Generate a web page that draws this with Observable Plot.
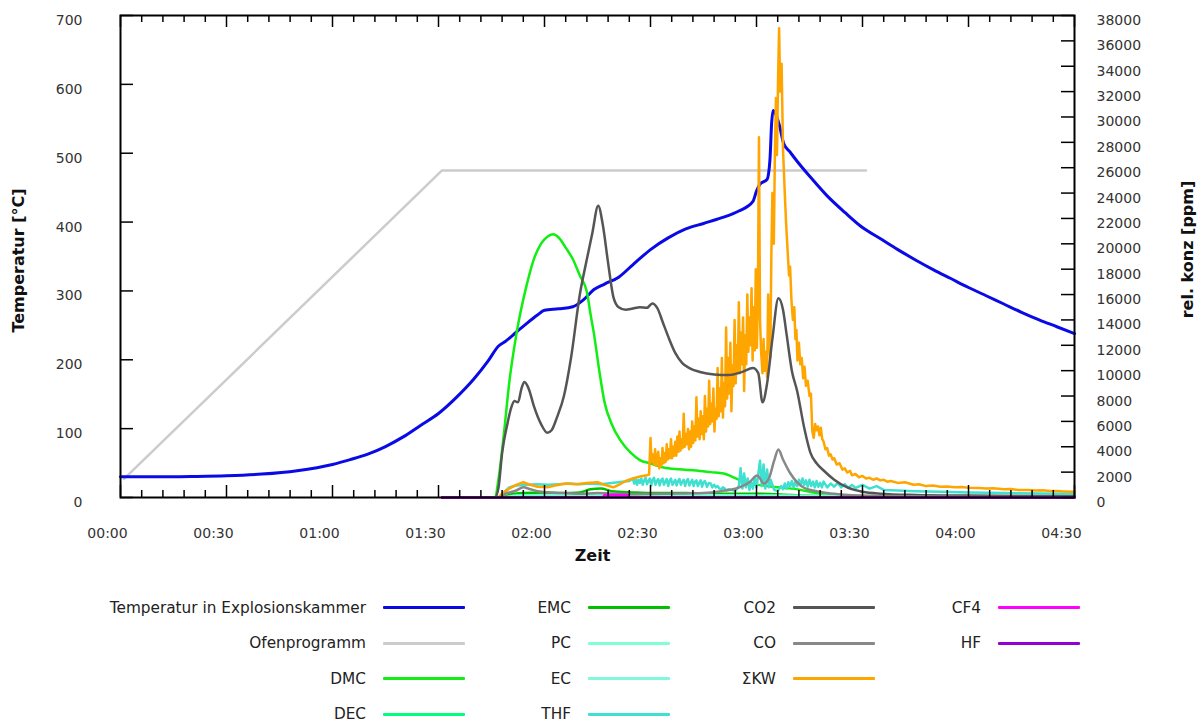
<!DOCTYPE html>
<html>
<head>
<meta charset="utf-8">
<script src="https://cdn.jsdelivr.net/npm/d3@7"></script>
<script src="https://cdn.jsdelivr.net/npm/@observablehq/plot@0.6"></script>
<style>
  body { margin: 0; background: #fff; font-family: "DejaVu Sans", Verdana, sans-serif; }
  #legend { display: grid; grid-template-columns: repeat(4, 205px); grid-template-rows: repeat(4, 35.5px); margin-left: 260px; font-size: 15.3px; color: #222; }
  .item { display: flex; justify-content: flex-end; align-items: center; gap: 17px; white-space: nowrap; }
  .swatch { width: 82px; height: 3px; flex: none; border-radius: 1px; }
</style>
</head>
<body>
<div id="chart"></div>
<div id="legend"></div>
<script>
// ---- tick values ----
const xMajorTicks = [0, 30, 60, 90, 120, 150, 180, 210, 240, 270];
const tempTicks = [0, 100, 200, 300, 400, 500, 600, 700];
const ppmTicks = [0, 2000, 4000, 6000, 8000, 10000, 12000, 14000, 16000, 18000, 20000, 22000, 24000, 26000, 28000, 30000, 32000, 34000, 36000, 38000];

// ---- series: [minutes, value] ----
const temperatur = [[0,30],[10,30],[20,30.5],[30,31.5],[40,34],[50,39],[60,48],[65,55],[70,63],[75,74],[80,88],[85,105],[90,122],[95,145],[100,172],[104,198],[107,220],[109,227],[112,240],[115,253],[118,265],[120,272],[124,274],[128,277],[131,287],[134,302],[137,310],[141,320],[145,338],[150,360],[155,377],[160,390],[165,398],[170,406],[175,416],[179,430],[180,445],[181,455],[183,462],[183.8,490],[184.3,545],[184.7,562],[185.5,556],[186.5,540],[187.7,514],[189.6,501],[192,485],[195.3,465],[200,438],[205,414],[210,392],[215,376],[220,360],[225,345],[230,331],[235,318],[240,305],[245,293],[250,281],[255,269],[260,258],[265,248],[270,238]];
const ofenprogramm = [[1,27],[91,475],[211,475]];

const dmc = [[91,0],[106,0],[107,1500],[108.5,5000],[110,9000],[112,12800],[115,16800],[117,18800],[119,20000],[121,20600],[122.5,20750],[124,20500],[126,19700],[128,18800],[130,17500],[132,16200],[133,14500],[134,12900],[135.5,10000],[137,7500],[139,5800],[141.5,4500],[144.3,3550],[147,2950],[150,2680],[153.7,2360],[158,2220],[163,2130],[167,2000],[170.7,1890],[173,1650],[175.5,1340],[179,1050],[182,945],[186,800],[190,700],[194,520],[198,300],[202,150],[210,70],[270,30]];
const dec = [[91,0],[108,0],[112,200],[130,250],[150,200],[180,150],[200,80],[270,20]];
const emc = [[91,0],[108,0],[110,200],[114,350],[120,400],[125,350],[130,400],[133,650],[136,700],[139,500],[145,400],[150,350],[160,350],[170,300],[180,300],[190,200],[200,100],[220,50],[270,30]];
const pc = [[91,0],[108,0],[112,150],[140,200],[180,150],[270,50]];
const ec = [[91,0],[110,0],[113,100],[150,150],[200,100],[270,40]];
const thf = [[91,0],[107,0],[108.5,400],[110,800],[112,950],[115,1000],[118,1050],[121,1000],[124,1050],[127,1100],[130,1050],[133,1100],[136,1050],[139,1150],[142,1250],[144,1300],[145,1500],[145.4,1100],[145.8,1450],[146.2,1000],[146.6,1400],[147,1150],[147.4,1500],[147.8,1000],[148.2,1350],[148.6,1550],[149,1050],[149.4,1300],[149.8,1500],[150.2,950],[150.6,1400],[151,1550],[151.4,1000],[151.8,1300],[152.2,1450],[152.6,950],[153,1350],[153.4,1500],[153.8,1000],[154.2,1250],[154.6,1450],[155,900],[155.4,1300],[155.8,1500],[156.2,1000],[156.6,1200],[157,1400],[157.4,950],[157.8,1300],[158.2,1450],[158.6,1000],[159,1250],[159.4,1400],[159.8,900],[160.2,1300],[160.6,1450],[161,950],[161.4,1200],[161.8,1400],[162.2,900],[162.6,1250],[163,1350],[163.4,900],[163.8,1150],[164.2,1350],[164.6,850],[165,1200],[165.4,1300],[166,850],[166.5,1150],[167,1100],[167.5,800],[168,1000],[168.5,800],[169,900],[169.5,700],[170,650],[170.5,800],[171,700],[171.5,550],[172,650],[173,600],[174,500],[175,900],[175.5,2300],[176,700],[176.5,1900],[177,800],[177.5,1500],[178,600],[178.5,1200],[179,700],[179.5,1600],[180,800],[181,2900],[181.5,900],[182,2600],[182.5,700],[183,2200],[183.5,800],[184,1400],[185,600],[186,500],[187,900],[187.5,650],[188,1100],[188.5,700],[189,1200],[189.5,850],[190,1300],[190.5,800],[191,1250],[191.5,900],[192,1400],[192.5,950],[193,1500],[193.5,1000],[194,1350],[194.5,850],[195,1400],[195.5,900],[196,1250],[196.5,800],[197,1300],[197.5,850],[198,1150],[198.5,800],[199,1250],[200,800],[201,1100],[202,850],[203,1150],[204,800],[205,1050],[206,750],[207,1000],[208,750],[210,1000],[212,700],[214,900],[216,600],[220,550],[225,500],[232,450],[240,400],[250,350],[260,320],[270,300]];
const co2 = [[91,0],[106,0],[107,800],[108,3500],[109.5,5800],[110.5,7000],[111.5,7600],[112.5,7500],[113.5,8600],[114.3,9100],[115.5,8600],[117,7200],[119,5800],[120.8,5100],[122,5300],[123.5,6300],[125.5,8000],[127.5,11000],[130,16000],[132,18800],[133.5,20800],[135.2,23000],[136.5,21500],[138,18500],[139.5,15800],[141,15000],[143,14800],[145,14900],[147,15000],[149,14950],[150.5,15300],[152,14900],[153.5,13800],[155,12700],[157,11400],[159,10600],[161,10200],[164,9900],[168,9700],[172,9650],[176,9900],[179,10200],[180.5,9800],[181.7,7500],[183,9000],[184.5,12500],[186.2,15700],[187.5,14800],[188.5,12900],[190,10000],[191.5,8400],[193.5,5500],[195.3,3500],[197,2700],[199,2130],[202,1400],[205.7,790],[210,450],[215,300],[225,200],[240,150],[270,100]];
const co = [[91,0],[107,0],[109,300],[112,550],[114,800],[116,650],[118,500],[121,400],[125,350],[130,300],[135,350],[140,300],[145,250],[150,280],[155,300],[160,320],[165,350],[170,500],[175,780],[178,1200],[180.2,1730],[181,1500],[182,1100],[183.5,1500],[185,2900],[186.2,3780],[187.5,3000],[189.6,1890],[191.5,1200],[193.3,790],[196,550],[200,350],[205,220],[215,120],[240,60],[270,40]];
const skw = [[91,0],[107,0],[108,300],[110,700],[112,1000],[114,1200],[116,1000],[118,850],[120.8,800],[123,950],[126,1100],[129,1050],[132,1150],[135,1200],[137,1000],[139.5,800],[141,1000],[143,1300],[145,1500],[147,1650],[149,1750],[149.6,1800],[150,4700],[150.3,2800],[150.6,3400],[151,2600],[151.3,3800],[151.6,2500],[152,3300],[152.2,3600],[152.5,2300],[152.8,3100],[153.1,2500],[153.4,3900],[153.7,2700],[154,3500],[154.3,2800],[154.6,4200],[154.9,3000],[155.2,3800],[155.5,3100],[155.8,4600],[156.1,3100],[156.4,4000],[156.7,3300],[157,4400],[157.3,3300],[157.6,4800],[157.9,3600],[158.2,5200],[158.5,3700],[158.8,4600],[159.1,3900],[159.4,6600],[159.7,4000],[160,5000],[160.3,4200],[160.6,5400],[160.9,3800],[161.2,5200],[161.5,4000],[161.8,6000],[162.1,4300],[162.4,5600],[162.7,4500],[163,7900],[163.3,4800],[163.6,6200],[163.9,4600],[164.2,6800],[164.5,5000],[164.8,6400],[165.1,4600],[165.4,8000],[165.7,5200],[166,7000],[166.3,5600],[166.6,9200],[166.9,5800],[167.2,7400],[167.5,6000],[167.8,8600],[168.1,5200],[168.4,7000],[168.7,6200],[169,10200],[169.3,6400],[169.6,8600],[169.9,6800],[170.2,11000],[170.5,6300],[170.8,9000],[171.1,7200],[171.4,13400],[171.7,7800],[172,11000],[172.3,8200],[172.6,12200],[172.9,6800],[173.2,10400],[173.5,8800],[173.8,14000],[174.1,9000],[174.4,12000],[174.7,9800],[175,15400],[175.3,9800],[175.6,13000],[175.9,10500],[176.2,14200],[176.5,8400],[176.8,12800],[177.1,10500],[177.4,16000],[177.7,11500],[178,14200],[178.3,12000],[178.6,16500],[178.9,10800],[179.2,15000],[179.5,11600],[179.8,18000],[180.1,11800],[180.4,16000],[180.7,28400],[181,14000],[181.3,11500],[181.7,9800],[182,12500],[182.3,10000],[182.7,11500],[183,9500],[183.3,16000],[183.6,12500],[183.9,11000],[184.2,19000],[184.5,24000],[184.9,20000],[185.2,27000],[185.5,31500],[185.8,27000],[186.1,33000],[186.4,37000],[186.7,32000],[187.1,34200],[187.5,27500],[188,24000],[188.4,21500],[188.8,19500],[189.2,17500],[189.5,18200],[189.9,15500],[190.3,14000],[190.7,15000],[191,12500],[191.3,13200],[191.6,10800],[192,12200],[192.4,10500],[192.8,11000],[193.2,9400],[193.6,10300],[194,8800],[194.5,9200],[195,8000],[195.4,8200],[195.8,5200],[196.2,4700],[196.6,5800],[197,5300],[197.4,5600],[197.8,4900],[198.2,5500],[198.6,4600],[199,4400],[199.5,3800],[200,3900],[200.5,3300],[201,3400],[201.5,3000],[202,3100],[202.7,2600],[203.5,2700],[204.3,2200],[205,2300],[205.7,1970],[206.5,2100],[207,1750],[208,1850],[209,1600],[210,1700],[211,1500],[212,1550],[213,1400],[214,1500],[215,1350],[216,1400],[217,1250],[218,1300],[220,1150],[222,1200],[224.5,1000],[226,1050],[228,900],[230,950],[232,850],[234,870],[236,800],[238,820],[240,760],[243,740],[245,700],[247,720],[250,650],[252,670],[254,600],[257,600],[259,560],[261,570],[263,520],[265,510],[267,480],[270,450]];
const cf4 = [[91,0],[136.5,0],[137,200],[143.5,200],[144,0],[270,0]];
const hf = [[91,0],[270,0]];

// ---- series definitions (draw order) ----
const series = [
  {name: "Ofenprogramm", data: ofenprogramm, color: "#cccccc", axis: "T", width: 2.5, curve: "linear"},
  {name: "Temperatur in Explosionskammer", data: temperatur, color: "#0a0ae6", axis: "T", width: 3, curve: "monotone-x"},
  {name: "DMC", data: dmc, color: "#11ee11", axis: "ppm", width: 2.5, curve: "monotone-x"},
  {name: "DEC", data: dec, color: "#00ff80", axis: "ppm", width: 2.5, curve: "monotone-x"},
  {name: "EMC", data: emc, color: "#00c000", axis: "ppm", width: 2.5, curve: "monotone-x"},
  {name: "PC", data: pc, color: "#7fffd4", axis: "ppm", width: 2.5, curve: "monotone-x"},
  {name: "EC", data: ec, color: "#80f8dc", axis: "ppm", width: 2.5, curve: "monotone-x"},
  {name: "THF", data: thf, color: "#40e0d0", axis: "ppm", width: 2.5, curve: "linear"},
  {name: "ΣKW", data: skw, color: "#ffa500", axis: "ppm", width: 2.5, curve: "linear"},
  {name: "CO2", data: co2, color: "#555555", axis: "ppm", width: 2.5, curve: "monotone-x"},
  {name: "CO", data: co, color: "#888888", axis: "ppm", width: 2.5, curve: "monotone-x"},
  {name: "CF4", data: cf4, color: "#ff00ff", axis: "ppm", width: 2.5, curve: "linear"},
  {name: "HF", data: hf, color: "#9400d3", axis: "ppm", width: 2.5, curve: "linear"}
];
const legendColumns = [
  ["Temperatur in Explosionskammer", "Ofenprogramm", "DMC", "DEC"],
  ["EMC", "PC", "EC", "THF"],
  ["CO2", "CO", "ΣKW"],
  ["CF4", "HF"]
];

const TMAX = 700, PMAX = 38000, k = TMAX / PMAX;
const W = 1200, H = 590, mL = 120, mR = 126, mT = 15, mB = 93;
const plotW = W - mL - mR, plotH = H - mT - mB;
const fmtTime = d => String(Math.floor(d / 60)).padStart(2, "0") + ":" + String(d % 60).padStart(2, "0");
const xMinorTicks = d3.range(0, 271, 6).filter(d => d % 30 !== 0);
const font = "DejaVu Sans";

const marks = [];
for (const s of series) {
  const f = s.axis === "T" ? 1 : k;
  marks.push(Plot.line(s.data, {x: d => d[0], y: d => d[1] * f, stroke: s.color, strokeWidth: s.width, strokeLinejoin: "round", curve: s.curve}));
}
// inward tick marks
marks.push(Plot.tickX(xMajorTicks, {x: d => d, insetTop: plotH - 12, stroke: "#000", strokeWidth: 1.5}));
marks.push(Plot.tickX(xMinorTicks, {x: d => d, insetTop: plotH - 7, stroke: "#000", strokeWidth: 1.5}));
marks.push(Plot.tickX(xMajorTicks, {x: d => d, insetBottom: plotH - 12, stroke: "#000", strokeWidth: 1.5}));
marks.push(Plot.tickX(xMinorTicks, {x: d => d, insetBottom: plotH - 7, stroke: "#000", strokeWidth: 1.5}));
marks.push(Plot.tickY(tempTicks, {y: d => d, insetRight: plotW - 13, stroke: "#000", strokeWidth: 1.5}));
marks.push(Plot.tickY(ppmTicks, {y: d => d * k, insetLeft: plotW - 13, stroke: "#000", strokeWidth: 1.5}));
marks.push(Plot.frame({stroke: "#000", strokeWidth: 2}));
// axis labels
marks.push(Plot.axisX(xMajorTicks, {anchor: "bottom", tickSize: 0, tickPadding: 31, tickFormat: fmtTime, dx: -13, fill: "#333", fontSize: 14}));
marks.push(Plot.axisY(tempTicks, {anchor: "left", tickSize: 0, tickPadding: 38, dy: 5, fill: "#333", fontSize: 14}));
marks.push(Plot.axisY(ppmTicks.map(v => v * k), {anchor: "right", tickSize: 0, tickPadding: 22, dy: 5, fill: "#333", fontSize: 14, tickFormat: d => String(Math.round(d / k))}));
// axis titles
marks.push(Plot.text(["Temperatur [°C]"], {frameAnchor: "left", textAnchor: "middle", dx: -102, dy: 4, rotate: -90, fontWeight: "bold", fontSize: 16, fill: "#111", text: d => d}));
marks.push(Plot.text(["rel. konz [ppm]"], {frameAnchor: "right", textAnchor: "middle", dx: 113, dy: -7, rotate: -90, fontWeight: "bold", fontSize: 16, fill: "#111", text: d => d}));
marks.push(Plot.text(["Zeit"], {frameAnchor: "bottom", dy: 63, dx: -5, fontWeight: "bold", fontSize: 16, fill: "#111", text: d => d}));

const chart = Plot.plot({
  width: W, height: H,
  marginLeft: mL, marginRight: mR, marginTop: mT, marginBottom: mB,
  style: {fontFamily: font, background: "#fff", overflow: "visible"},
  x: {domain: [0, 270], axis: null},
  y: {domain: [0, TMAX], axis: null},
  marks
});
document.getElementById("chart").appendChild(chart);

// legend
const legend = document.getElementById("legend");
const byName = new Map(series.map(s => [s.name, s]));
legendColumns.forEach((col, ci) => {
  col.forEach((name, ri) => {
    const s = byName.get(name);
    const item = document.createElement("div");
    item.className = "item";
    item.style.gridColumn = String(ci + 1);
    item.style.gridRow = String(ri + 1);
    const lab = document.createElement("span");
    lab.textContent = name;
    const sw = document.createElement("span");
    sw.className = "swatch";
    sw.style.background = s.color;
    item.appendChild(lab);
    item.appendChild(sw);
    legend.appendChild(item);
  });
});
</script>
</body>
</html>
